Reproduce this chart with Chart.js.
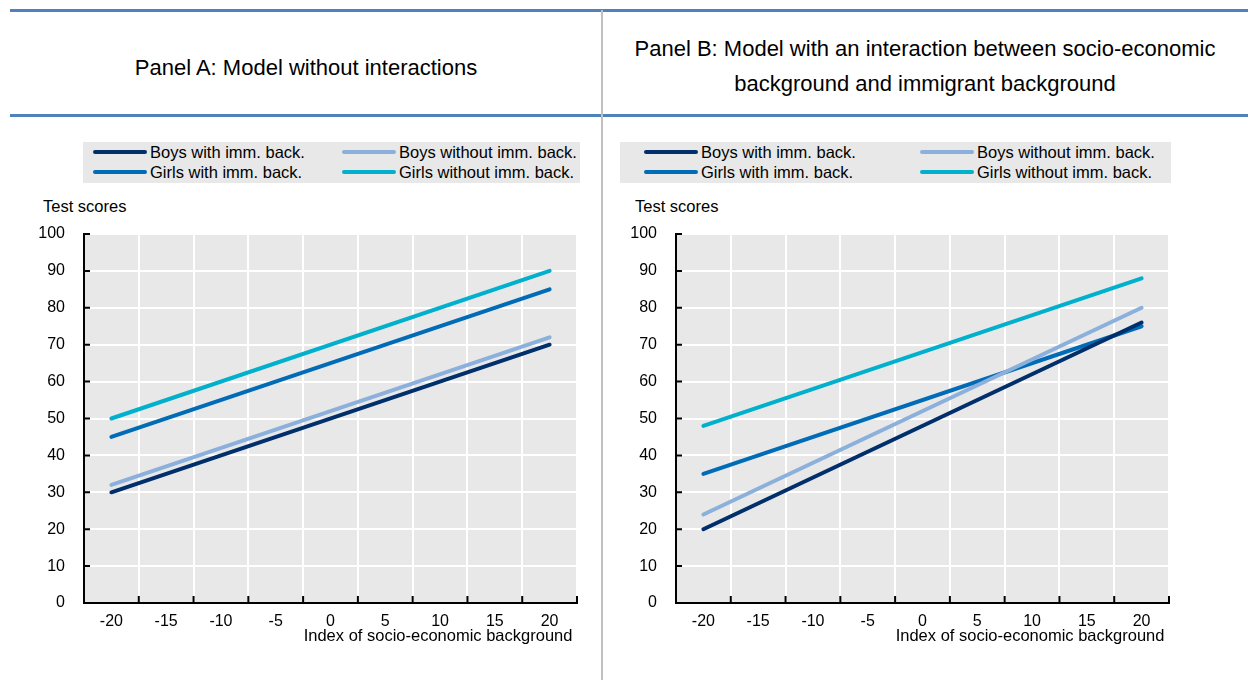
<!DOCTYPE html>
<html>
<head>
<meta charset="utf-8">
<script src="https://cdn.jsdelivr.net/npm/chart.js@4.4.1/dist/chart.umd.min.js"></script>
<style>
  body { margin:0; width:1248px; height:680px; position:relative; background:#fff; overflow:hidden;
         font-family:"Liberation Sans", Arial, sans-serif; color:#000; }
  .abs { position:absolute; }
  .rule { position:absolute; background:#4f81bd; height:3px; }
  .sep { position:absolute; left:601px; top:10px; width:2px; height:670px; background:#c0c0c0; }
  .title { position:absolute; font-size:22px; text-align:center; line-height:35px; }
  .legend { position:absolute; top:142px; height:41px; background:#e8e8e8; }
  .item { position:absolute; font-size:16.5px; line-height:18px; white-space:nowrap; }
  .swatch { position:absolute; height:4px; border-radius:2px; }
  .ylab { position:absolute; top:197px; font-size:16.5px; }
  canvas { position:absolute; }
</style>
</head>
<body>
<div class="rule" style="left:10px; top:9px; width:1238px;"></div>
<div class="rule" style="left:10px; top:114px; width:1238px;"></div>
<div class="sep"></div>
<div class="title" style="left:10px; width:592px; top:50px;">Panel A: Model without interactions</div>
<div class="title" style="left:602px; width:646px; top:31px;">Panel B: Model with an interaction between socio-economic<br>background and immigrant background</div>
<div class="legend" id="legA" style="left:83px; width:497px;"></div>
<div class="legend" id="legB" style="left:620px; width:551px;"></div>
<div class="ylab" style="left:43px;">Test scores</div>
<div class="ylab" style="left:635px;">Test scores</div>
<div class="abs" style="left:0; top:190px; width:602px; height:460px;"><canvas id="chartA"></canvas></div>
<div class="abs" style="left:592px; top:190px; width:602px; height:460px;"><canvas id="chartB"></canvas></div>
<script>
// categories (index of socio-economic background)
const xLabels = ['-20', '-15', '-10', '-5', '0', '5', '10', '15', '20'];
const seriesNames = ['Boys with imm. back.', 'Boys without imm. back.', 'Girls with imm. back.', 'Girls without imm. back.'];
const seriesColors = ['#002f6c', '#8cb0dc', '#006bb6', '#00b0cc'];

// Panel A: model without interactions
const aBoysWith     = [30, null, null, null, null, null, null, null, 70];
const aBoysWithout  = [32, null, null, null, null, null, null, null, 72];
const aGirlsWith    = [45, null, null, null, null, null, null, null, 85];
const aGirlsWithout = [50, null, null, null, null, null, null, null, 90];

// Panel B: model with interaction
const bBoysWith     = [20, null, null, null, null, null, null, null, 76];
const bBoysWithout  = [24, null, null, null, null, null, null, null, 80];
const bGirlsWith    = [35, null, null, null, null, null, null, null, 75];
const bGirlsWithout = [48, null, null, null, null, null, null, null, 88];

Chart.defaults.font.family = '"Liberation Sans", Arial, sans-serif';
Chart.defaults.font.size = 16;
Chart.defaults.color = '#000';

function buildLegend(id, offs) {
    var box = document.getElementById(id);
    // row 1 boys, row 2 girls; column 1 with, column 2 without
    var pos = [[0, 0], [1, 0], [0, 1], [1, 1]];
    for (var i = 0; i < seriesNames.length; i++) {
        var col = pos[i][0], row = pos[i][1];
        var sw = document.createElement('div');
        sw.className = 'swatch';
        sw.style.left = offs[col] + 'px';
        sw.style.width = '54px';
        sw.style.top = (8 + row * 20) + 'px';
        sw.style.background = seriesColors[i];
        box.appendChild(sw);
        var tx = document.createElement('div');
        tx.className = 'item';
        tx.style.left = (offs[col] + 57) + 'px';
        tx.style.top = (1 + row * 20) + 'px';
        tx.textContent = seriesNames[i];
        box.appendChild(tx);
    }
}

const panelDecor = {
    id: 'panelDecor',
    beforeDraw(chart) {
        const {ctx, chartArea: a} = chart;
        ctx.save();
        ctx.fillStyle = '#e8e8e8';
        ctx.fillRect(a.left, a.top, a.right - a.left, a.bottom - a.top);
        ctx.restore();
    },
    afterDraw(chart) {
        const {ctx, chartArea: a, scales: {x, y}} = chart;
        ctx.save();
        ctx.strokeStyle = '#000';
        ctx.lineWidth = 2;
        ctx.beginPath();
        ctx.moveTo(a.left, a.top - 1);
        ctx.lineTo(a.left, a.bottom + 1);
        y.ticks.forEach(function (t, i) {
            var py = y.getPixelForTick(i);
            ctx.moveTo(a.left, py);
            ctx.lineTo(a.left + 6, py);
        });
        ctx.moveTo(a.left - 1, a.bottom);
        ctx.lineTo(a.right + 1, a.bottom);
        // tick marks sit between the categories
        for (var i = 0; i < xLabels.length; i++) {
            var px = x.getPixelForValue(i + 0.5);
            ctx.moveTo(px, a.bottom);
            ctx.lineTo(px, a.bottom - 7);
        }
        ctx.stroke();
        ctx.restore();
    }
};

function makePanel(canvasId, values) {
    const ctx = document.getElementById(canvasId).getContext('2d');
    const datasets = values.map(function (v, i) {
        return {
            label: seriesNames[i],
            data: v,
            borderColor: seriesColors[i],
            backgroundColor: seriesColors[i],
            borderWidth: 4,
            borderCapStyle: 'round',
            pointRadius: 0,
            spanGaps: true,
            fill: false
        };
    });
    return new Chart(ctx, {
        type: 'line',
        data: { labels: xLabels, datasets: datasets },
        options: {
            responsive: true,
            maintainAspectRatio: false,
            animation: false,
            layout: { padding: { top: 44, right: 25, left: 0, bottom: 0 } },
            plugins: { legend: { display: false }, tooltip: { enabled: false } },
            scales: {
                x: {
                    offset: true,
                    grid: { offset: true, color: '#fff', lineWidth: 2, drawTicks: false },
                    border: { display: false },
                    ticks: { padding: 9, maxRotation: 0, autoSkip: false },
                    title: { display: true, text: 'Index of socio-economic background ', align: 'end',
                             padding: { top: 0, bottom: 4 }, font: { size: 16.5 } },
                    afterFit: function (s) { s.height = 47; }
                },
                y: {
                    min: 0, max: 100,
                    grid: { color: '#fff', lineWidth: 2, drawTicks: false },
                    border: { display: false },
                    ticks: { stepSize: 10, padding: 19 },
                    afterFit: function (s) { s.width = 84; }
                }
            }
        },
        plugins: [panelDecor]
    });
}

buildLegend('legA', [10, 259]);
buildLegend('legB', [24, 300]);
makePanel('chartA', [aBoysWith, aBoysWithout, aGirlsWith, aGirlsWithout]);
makePanel('chartB', [bBoysWith, bBoysWithout, bGirlsWith, bGirlsWithout]);
</script>
</body>
</html>
